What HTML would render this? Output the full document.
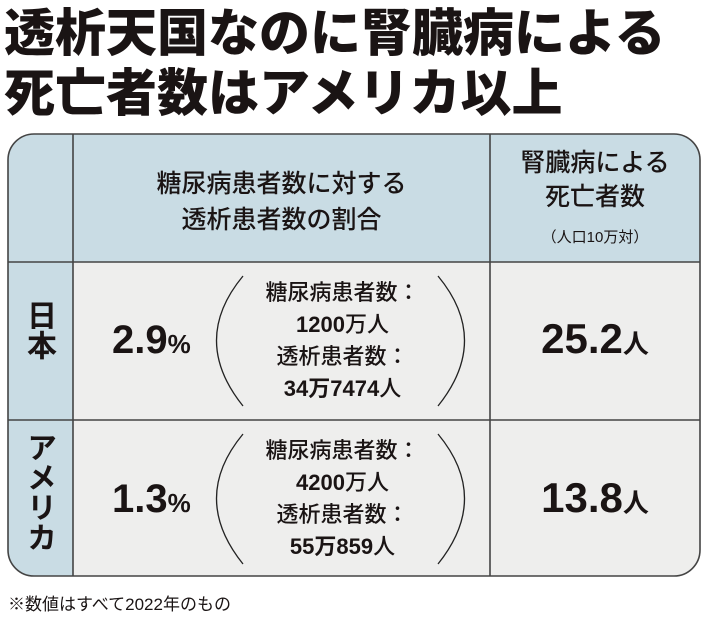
<!DOCTYPE html>
<html><head><meta charset="utf-8"><style>
body{margin:0;width:710px;height:620px;background:#fff;position:relative;overflow:hidden;font-family:"Liberation Sans","Noto Sans CJK JP",sans-serif;color:#1a1414}
.a{position:absolute;white-space:nowrap}
.t{font-weight:900;font-size:51px;left:4px;letter-spacing:0px;line-height:60px}
.c{text-align:center}
.b{font-weight:700}
.m{font-weight:500}
</style></head><body>
<div class="a t" style="top:4px">透析天国なのに腎臓病による</div>
<div class="a t" style="top:64px">死亡者数はアメリカ以上</div>
<svg class="a" style="left:0;top:0" width="710" height="620">
<defs><clipPath id="r"><path d="M34,134 H674 A26,26 0 0 1 700,160 V550 A26,26 0 0 1 674,576 H34 A26,26 0 0 1 8,550 V160 A26,26 0 0 1 34,134 Z"/></clipPath></defs>
<g clip-path="url(#r)">
<rect x="0" y="0" width="710" height="620" fill="#eeeeed"/>
<rect x="0" y="130" width="710" height="132" fill="#c9dce4"/>
<rect x="0" y="130" width="73" height="460" fill="#c9dce4"/>
</g>
<path d="M34,134 H674 A26,26 0 0 1 700,160 V550 A26,26 0 0 1 674,576 H34 A26,26 0 0 1 8,550 V160 A26,26 0 0 1 34,134 Z" fill="none" stroke="#444" stroke-width="1.6"/>
<g stroke="#444" stroke-width="1.6">
<line x1="73" y1="134" x2="73" y2="576"/><line x1="490" y1="134" x2="490" y2="576"/>
<line x1="8" y1="262" x2="700" y2="262"/><line x1="8" y1="420" x2="700" y2="420"/></g>
<g fill="none" stroke="#222" stroke-width="1.3">
<path d="M243,276 Q190,340 243,406"/><path d="M438,276 Q491,340 438,406"/>
<path d="M243,434 Q190,498 243,564"/><path d="M438,434 Q491,498 438,564"/></g>
</svg>
<div class="a c m" style="left:73px;width:417px;top:166px;font-size:25px;line-height:36px">糖尿病患者数に対する<br>透析患者数の割合</div>
<div class="a c m" style="left:490px;width:210px;top:146px;font-size:25px;line-height:34px">腎臓病による<br>死亡者数</div>
<div class="a c" style="left:490px;width:210px;top:226px;font-size:15px">（人口10万対）</div>
<div class="a b" style="left:24px;top:300px;width:34px;font-size:30px;line-height:40px;writing-mode:vertical-rl">日本</div>
<div class="a b" style="left:22px;top:432px;width:34px;font-size:30px;line-height:36px;writing-mode:vertical-rl">アメリカ</div>
<div class="a b" style="left:112px;top:318px;font-size:40px">2.9<span style="font-size:26px">%</span></div>
<div class="a b" style="left:112px;top:477px;font-size:40px">1.3<span style="font-size:26px">%</span></div>
<div class="a c m" style="left:245px;width:195px;top:277px;font-size:22px;line-height:32px">糖尿病患者数：<br><b>1200</b>万人<br>透析患者数：<br><b>34万7474</b>人</div>
<div class="a c m" style="left:245px;width:195px;top:435px;font-size:22px;line-height:32px">糖尿病患者数：<br><b>4200</b>万人<br>透析患者数：<br><b>55万859</b>人</div>
<div class="a c b" style="left:490px;width:210px;top:315px;font-size:42px">25.2<span style="font-size:26px">人</span></div>
<div class="a c b" style="left:490px;width:210px;top:474px;font-size:42px">13.8<span style="font-size:26px">人</span></div>
<div class="a" style="left:8px;top:590px;font-size:17px">※数値はすべて2022年のもの</div>
</body></html>
